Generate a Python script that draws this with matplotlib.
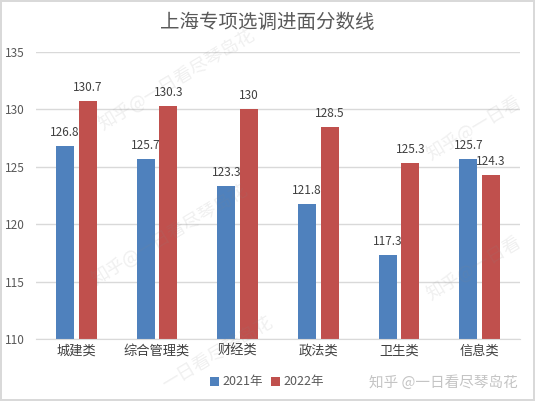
import matplotlib
matplotlib.use('Agg')
import matplotlib.pyplot as plt
import numpy as np

plt.rcParams['font.family'] = ['Noto Sans CJK SC', 'DejaVu Sans']

categories = ['城建类', '综合管理类', '财经类', '政法类', '卫生类', '信息类']
scores_2021 = [126.8, 125.7, 123.3, 121.8, 117.3, 125.7]
scores_2022 = [130.7, 130.3, 130, 128.5, 125.3, 124.3]
series_names = ['2021年', '2022年']
yticks = [110, 115, 120, 125, 130, 135]

blue = '#4F81BD'
red = '#C0504D'

fig = plt.figure(figsize=(5.35, 4.01), dpi=100)
fig.patch.set_edgecolor('#D9D9D9')
fig.patch.set_linewidth(1.5)
ax = fig.add_axes([36 / 535, 1 - 339 / 401, 484 / 535, (339 - 52) / 401])

x = np.arange(len(categories))
w = 0.22
off = 0.14
b1 = ax.bar(x - off, scores_2021, w, color=blue, label=series_names[0], zorder=2)
b2 = ax.bar(x + off, scores_2022, w, color=red, label=series_names[1], zorder=2)

for bars, vals in [(b1, scores_2021), (b2, scores_2022)]:
    for rect, v in zip(bars, vals):
        ax.annotate(f'{v:g}', (rect.get_x() + rect.get_width() / 2, v),
                    xytext=(0, 5), textcoords='offset points',
                    ha='center', va='bottom', fontsize=8.5, color='#404040')

ax.set_ylim(110, 135)
ax.set_xlim(-0.5, len(categories) - 0.5)
ax.set_yticks(yticks)
ax.set_xticks(x)
ax.set_xticklabels(categories, fontsize=9.5, color='#404040')
ax.tick_params(axis='y', labelsize=8.5, labelcolor='#595959', length=0, pad=8)
ax.tick_params(axis='x', length=0, pad=4)
ax.grid(axis='y', color='#D9D9D9', linewidth=1, zorder=0)
for s in ['top', 'right', 'left']:
    ax.spines[s].set_visible(False)
ax.spines['bottom'].set_color('#D9D9D9')
ax.set_axisbelow(True)

fig.text(0.5, 1 - 22 / 401, '上海专项选调进面分数线', ha='center', va='center',
         fontsize=14, color='#595959', fontweight='light')

fig.legend(handles=[b1, b2], loc='center', bbox_to_anchor=(267 / 535, 1 - 382 / 401),
           ncol=2, frameon=False, fontsize=9, handlelength=0.7, handleheight=0.7,
           handletextpad=0.3, columnspacing=0.6, labelcolor='#595959')

fig.text(443 / 535, 1 - 382 / 401, '知乎 @一日看尽琴岛花', ha='center', va='center',
         fontsize=10.5, color='#C4C4C4')

# faint diagonal watermarks (the ones at the edges only partly visible)
marks = [
    ('知乎@一日看尽琴岛花', 177, 80, 'center'),
    ('知乎@一日看尽琴岛花', 170, 235, 'center'),
    ('一日看尽琴岛花', 272, 322, 'right'),
    ('知乎@一日看', 428, 156, 'left'),
    ('知乎@一日看', 428, 296, 'left'),
]
for txt, cx, cy, ha in marks:
    fig.text(cx / 535, 1 - cy / 401, txt, ha=ha, va='center', rotation=31,
             rotation_mode='anchor', fontsize=13, color='#888888', alpha=0.13)

fig.savefig('out.png', dpi=100)
